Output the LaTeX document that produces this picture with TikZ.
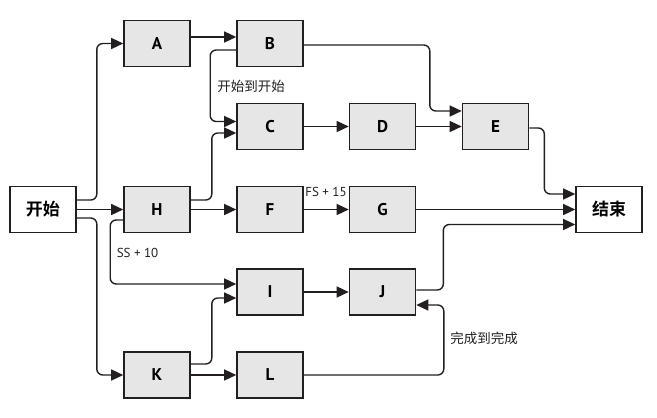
\documentclass[tikz,border=0pt]{standalone}
\usepackage{fontspec}
\setmainfont{PT Sans}
\newfontfamily\cjk{Noto Sans CJK SC}
\newfontfamily\cjkb{Noto Sans CJK SC Bold}
\usetikzlibrary{arrows.meta,calc}
\definecolor{ink}{HTML}{231F20}
\definecolor{boxfill}{HTML}{E6E6E6}
\tikzset{
  task/.style={draw=ink, line width=1.6pt, fill=boxfill, minimum width=66pt, minimum height=46pt, inner sep=0pt, font=\fontsize{17}{17}\selectfont\bfseries},
  term/.style={task, fill=white, font=\fontsize{17}{17}\selectfont\cjkb},
  conn/.style={draw=ink, line width=1.4pt, rounded corners=6pt, -{Triangle[length=12pt,width=11pt]}},
  lbl/.style={text=ink, inner sep=0pt, font=\fontsize{13}{13}\selectfont},
  cjklbl/.style={text=ink, inner sep=0pt, font=\fontsize{13.5}{13.5}\selectfont\cjk}
}
\begin{document}
\begin{tikzpicture}[x=1pt,y=-1pt]
\useasboundingbox (0,0) rectangle (657,418);
\node[term] (start) at (43,209.5) {开始};
\node[term] (end) at (609,209.5) {结束};
\node[task] (A) at (157,43.5) {A};
\node[task] (B) at (270,43.5) {B};
\node[task] (C) at (270,126.5) {C};
\node[task] (D) at (382.5,126.5) {D};
\node[task] (E) at (495.5,126.5) {E};
\node[task] (H) at (157,209.5) {H};
\node[task] (F) at (270,209.5) {F};
\node[task] (G) at (382.5,209.5) {G};
\node[task] (I) at (270,292) {I};
\node[task] (J) at (382.5,292) {J};
\node[task] (K) at (157,375) {K};
\node[task] (L) at (270,375) {L};
% labels
\node[cjklbl] (l1) at (251,86) {开始到开始};
\node[lbl] (l2) at (326,192) {FS + 15};
\node[lbl] (l3) at (137.5,253) {SS + 10};
\node[cjklbl] (l4) at (484,338) {完成到完成};
% connectors
\draw[conn] ([yshift=9.5pt]start.east) -- ++(20,0) |- (A.west);
\draw[conn] (start.east) -- (H.west);
\draw[conn] ([yshift=-8.5pt]start.east) -- ++(20,0) |- (K.west);
\draw[conn] ([yshift=6.5pt]A.east) -- ([yshift=6.5pt]B.west);
\draw[conn] ([yshift=-6.5pt]B.west) -- ++(-26,0) |- ([yshift=5pt]C.west);
\draw[conn] ([yshift=9.5pt]H.east) -- ++(21,0) |- ([yshift=-6.5pt]C.west);
\draw[conn] (C.east) -- (D.west);
\draw[conn] (D.east) -- (E.west);
\draw[conn] ([yshift=-1.5pt]B.east) -- ++(126,0) |- ([yshift=15.5pt]E.west);
\draw[conn] ([yshift=-1.5pt]E.east) -- ++(15,0) |- ([yshift=15.5pt]end.west);
\draw[conn] (G.east) -- (end.west);
\draw[conn] ([yshift=2pt]J.east) -- ++(27,0) |- ([yshift=-15pt]end.west);
\draw[conn] (H.east) -- (F.west);
\draw[conn] (F.east) -- (G.west);
\draw[conn] ([yshift=-10.5pt]H.west) -- ++(-13,0) |- ([yshift=8pt]I.west);
\draw[conn] ([yshift=11pt]K.east) -- ++(21,0) |- ([yshift=-6pt]I.west);
\draw[conn] (I.east) -- (J.west);
\draw[conn] (K.east) -- (L.west);
\draw[conn] (L.east) -- ++(140,0) |- ([yshift=-13pt]J.east);
\end{tikzpicture}
\end{document}
